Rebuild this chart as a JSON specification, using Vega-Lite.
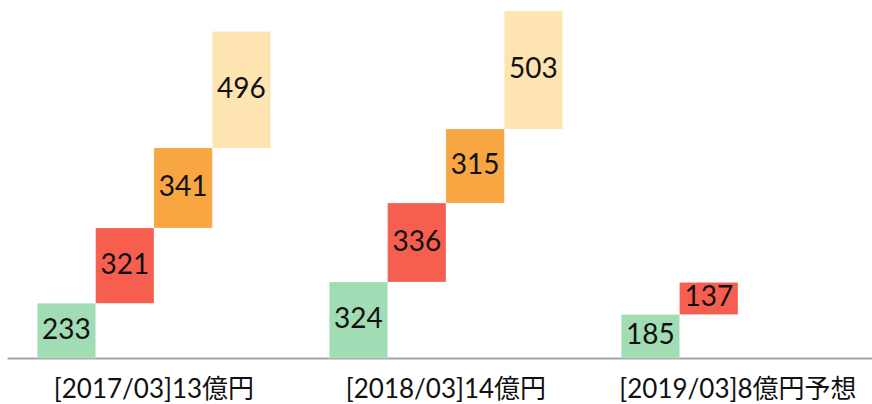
{
  "$schema": "https://vega.github.io/schema/vega-lite/v6.json",
  "autosize": "none",
  "width": 865,
  "height": 358,
  "padding": {"left": 7, "top": 0, "right": 0, "bottom": 46},
  "background": "white",
  "config": {"view": {"stroke": null}},
  "data": {
    "values": [
      {"group": "[2017/03]13億円", "q": "Q1", "value": 233},
      {"group": "[2017/03]13億円", "q": "Q2", "value": 321},
      {"group": "[2017/03]13億円", "q": "Q3", "value": 341},
      {"group": "[2017/03]13億円", "q": "Q4", "value": 496},
      {"group": "[2018/03]14億円", "q": "Q1", "value": 324},
      {"group": "[2018/03]14億円", "q": "Q2", "value": 336},
      {"group": "[2018/03]14億円", "q": "Q3", "value": 315},
      {"group": "[2018/03]14億円", "q": "Q4", "value": 503},
      {"group": "[2019/03]8億円予想", "q": "Q1", "value": 185},
      {"group": "[2019/03]8億円予想", "q": "Q2", "value": 137}
    ]
  },
  "transform": [
    {"stack": "value", "groupby": ["group"], "sort": [{"field": "q", "order": "ascending"}], "as": ["v0", "v1"]}
  ],
  "encoding": {
    "x": {
      "field": "group", "type": "nominal", "sort": null, "title": null,
      "scale": {"paddingInner": 0.201, "paddingOuter": 0.0817, "align": 0.635},
      "axis": {
        "ticks": false, "labelAngle": 0, "labelPadding": 18, "labelLimit": 0,
        "labelFont": "Lato, Noto Sans CJK JP", "labelFontSize": 26, "labelColor": "#111111",
        "domainColor": "#a6a6a6", "domainWidth": 2, "grid": false
      }
    },
    "xOffset": {"field": "q", "type": "nominal", "scale": {"domain": ["Q1", "Q2", "Q3", "Q4"], "paddingInner": 0, "paddingOuter": 0}}
  },
  "layer": [
    {
      "mark": {"type": "bar", "stroke": "white", "strokeOpacity": 0.4, "strokeWidth": 0.5},
      "encoding": {
        "y": {"field": "v0", "type": "quantitative", "axis": null, "scale": {"domain": [0, 1525], "nice": false, "zero": true}},
        "y2": {"field": "v1"},
        "color": {"field": "q", "type": "nominal", "legend": null,
          "scale": {"domain": ["Q1", "Q2", "Q3", "Q4"], "range": ["#a2dcb5", "#f65f4f", "#f7a641", "#fde4b1"]}}
      }
    },
    {
      "transform": [
        {"fold": ["v0", "v1"], "as": ["edge", "yv"]}
      ],
      "mark": {"type": "text", "font": "Lato", "fontSize": 28, "color": "#111111", "align": "center", "baseline": "middle"},
      "encoding": {
        "y": {"aggregate": "mean", "field": "yv", "type": "quantitative", "axis": null},
        "text": {"field": "value", "type": "quantitative"}
      }
    }
  ]
}
